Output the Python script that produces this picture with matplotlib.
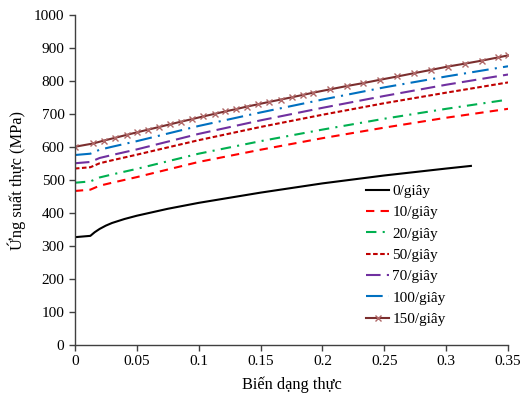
import numpy as np
import matplotlib.pyplot as plt

plt.rcParams['font.family'] = ['Liberation Serif', 'DejaVu Serif']

# du lieu doc tu hinh
x_chung = [0, 0.0125, 0.02, 0.03, 0.05, 0.1, 0.15, 0.2, 0.25, 0.3, 0.35]

x_0 = [0, 0.0125, 0.016, 0.02, 0.025, 0.03, 0.04, 0.05, 0.075, 0.1, 0.15, 0.2,
       0.25, 0.3, 0.32]
y_0 = [327, 331, 342, 352, 362, 370, 382, 392, 413, 431, 462, 490,
       514, 535, 543]

y_10 = [467, 471, 483, 492, 509, 555, 592, 627, 659, 689, 716]
y_20 = [492, 496, 508, 517, 534, 580, 618, 653, 686, 716, 744]
y_50 = [535, 539, 551, 560, 577, 621, 661, 698, 733, 765, 796]
y_70 = [551, 555, 567, 576, 593, 640, 681, 719, 755, 789, 820]
y_100 = [576, 580, 592, 601, 618, 664, 705, 744, 781, 814, 845]

x_150 = [0, 0.0148, 0.0237, 0.0323, 0.0418, 0.0504, 0.0593, 0.0681, 0.0768,
         0.0857, 0.0948, 0.1037, 0.1132, 0.1213, 0.130, 0.1393, 0.1482, 0.157,
         0.1663, 0.1752, 0.184, 0.1926, 0.2061, 0.2196, 0.233, 0.2465, 0.2605,
         0.274, 0.2878, 0.3012, 0.3152, 0.3287, 0.3422, 0.35]
y_150 = [601, 611, 620, 628, 637, 645, 653, 661, 669,
         677, 685, 693, 701, 708, 715, 723, 730, 737,
         744, 751, 758, 765, 775, 785, 794, 804, 814,
         824, 834, 844, 853, 862, 872, 878]

x_ticks = [0, 0.05, 0.1, 0.15, 0.2, 0.25, 0.3, 0.35]
x_tick_labels = ['0', '0.05', '0.1', '0.15', '0.2', '0.25', '0.3', '0.35']
y_ticks = list(range(0, 1001, 100))

fig = plt.figure(figsize=(5.2, 3.98), dpi=100)
ax = fig.add_axes([0.144, 0.133, 0.833, 0.829])

lw = 1.5
ax.plot(x_0, y_0, color='black', lw=lw, label='0/giây')
ax.plot(x_chung, y_10, color='#FF0000', lw=lw, dashes=(4, 3), label='10/giây')
ax.plot(x_chung, y_20, color='#00B050', lw=lw, dashes=(5, 3, 1, 3), label='20/giây')
ax.plot(x_chung, y_50, color='#C00000', lw=lw, dashes=(2.2, 1.2), label='50/giây')
ax.plot(x_chung, y_70, color='#7030A0', lw=lw, dashes=(7, 3), label='70/giây')
ax.plot(x_chung, y_100, color='#0070C0', lw=lw, dashes=(8, 3, 1, 3), label='100/giây')
ax.plot(x_150, y_150, color='#7B2E2E', lw=lw, marker='x', markersize=4,
        markeredgecolor='#B06868', markeredgewidth=1.0, label='150/giây')

ax.set_xlim(0, 0.35)
ax.set_ylim(0, 1000)
ax.set_xticks(x_ticks)
ax.set_xticklabels(x_tick_labels)
ax.set_yticks(y_ticks)

for s in ['top', 'right']:
    ax.spines[s].set_visible(False)
for s in ['left', 'bottom']:
    ax.spines[s].set_color('#404040')
    ax.spines[s].set_linewidth(1.0)
ax.tick_params(direction='out', length=4, width=1.0, color='#404040',
               labelsize=11, labelcolor='black')

ax.set_xlabel('Biến dạng thực', fontsize=11.8, labelpad=6)
ax.set_ylabel('Ứng suất thực (MPa)', fontsize=11.8, labelpad=6)

ax.legend(loc='upper left', bbox_to_anchor=(0.655, 0.51), frameon=False,
          fontsize=11, handlelength=1.5, handletextpad=0.2,
          labelspacing=0.5, borderpad=0)

fig.savefig('out.png', dpi=100)
